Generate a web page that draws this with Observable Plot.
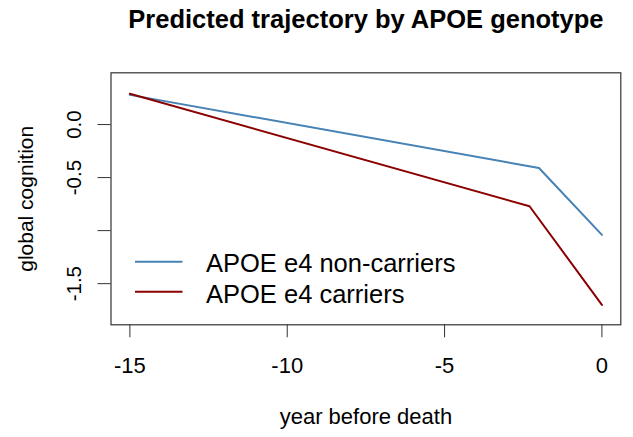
<!DOCTYPE html>
<html><head>
<meta charset="utf-8">
<script src="https://cdn.jsdelivr.net/npm/d3@7"></script>
<script src="https://cdn.jsdelivr.net/npm/@observablehq/plot@0.6"></script>
<style>body{margin:0;background:#fff;} svg{display:block}</style>
</head><body><div id="chart"></div>
<script>
const titleText = "Predicted trajectory by APOE genotype";
const xLabel = "year before death";
const yLabel = "global cognition";
const seriesNames = ["APOE e4 non-carriers", "APOE e4 carriers"];
const seriesColors = ["#4682B4", "#8B0000"];
const nonCarrierYears = [-15, -2, 0];
const nonCarrierValues = [0.28, -0.41, -1.04];
const carrierYears = [-15, -2.3, 0];
const carrierValues = [0.29, -0.77, -1.70];
const xTicks = [-15, -10, -5, 0];
const xTickLabels = ["-15", "-10", "-5", "0"];
const yTicks = [0, -0.5, -1, -1.5];
const yTickLabels = ["0.0", "-0.5", "", "-1.5"];

const rows = [
  ...nonCarrierYears.map((x, i) => ({series: seriesNames[0], x, y: nonCarrierValues[i]})),
  ...carrierYears.map((x, i) => ({series: seriesNames[1], x, y: carrierValues[i]}))
];
const yTickRows = yTicks.map((v, i) => ({v, label: yTickLabels[i]}));
const legendRows = seriesNames.map((name, i) => ({name, color: seriesColors[i], i}));

const font = "'Liberation Sans', Arial, sans-serif";

function legendMark(index, scales, values, dims) {
  const g = d3.create("svg:g");
  const left = dims.marginLeft;
  const bottom = dims.height - dims.marginBottom;
  const lineOff = [62.6, 32.6];
  const textOff = [52, 21];
  legendRows.forEach((d, i) => {
    g.append("line")
      .attr("x1", left + 24.5).attr("x2", left + 72)
      .attr("y1", bottom - lineOff[i]).attr("y2", bottom - lineOff[i])
      .attr("stroke", d.color).attr("stroke-width", 2);
    g.append("text")
      .attr("x", left + 95.5).attr("y", bottom - textOff[i])
      .attr("text-anchor", "start")
      .attr("font-size", 25.5).attr("font-family", font).attr("fill", "#000")
      .text(d.name);
  });
  return g.node();
}

const chart = Plot.plot({
  width: 633,
  height: 437,
  marginLeft: 110.5,
  marginRight: 12.7,
  marginTop: 72.3,
  marginBottom: 112.7,
  style: {fontFamily: font, fontSize: "20px", color: "#000", background: "#fff"},
  x: {domain: [-15.6, 0.6], axis: null},
  y: {domain: [-1.888, 0.488], axis: null},
  marks: [
    Plot.frame({stroke: "#333", strokeWidth: 1.2}),
    Plot.axisX(xTicks, {tickSize: 13, tickPadding: 20, stroke: "#333", label: null, tickFormat: (d) => xTickLabels[xTicks.indexOf(d)], fontSize: 22}),
    Plot.axisY(yTicks, {tickSize: 13, stroke: "#333", label: null, tickFormat: () => ""}),
    Plot.text(yTickRows, {y: "v", text: "label", frameAnchor: "left", rotate: -90, dx: -30.5, lineAnchor: "bottom", textAnchor: "middle", fontSize: 20.5}),
    Plot.line(rows, {x: "x", y: "y", z: "series", stroke: "series", strokeWidth: 2}),
    Plot.text([titleText], {frameAnchor: "top", dy: -44.6, lineAnchor: "bottom", fontSize: 25.5, fontWeight: "bold"}),
    Plot.text([xLabel], {frameAnchor: "bottom", dy: 99, lineAnchor: "bottom", fontSize: 22}),
    Plot.text([yLabel], {frameAnchor: "left", dx: -78.5, rotate: -90, lineAnchor: "bottom", textAnchor: "middle", fontSize: 21}),
    legendMark
  ],
  color: {domain: seriesNames, range: seriesColors}
});
document.getElementById("chart").appendChild(chart);
</script>
</body></html>
